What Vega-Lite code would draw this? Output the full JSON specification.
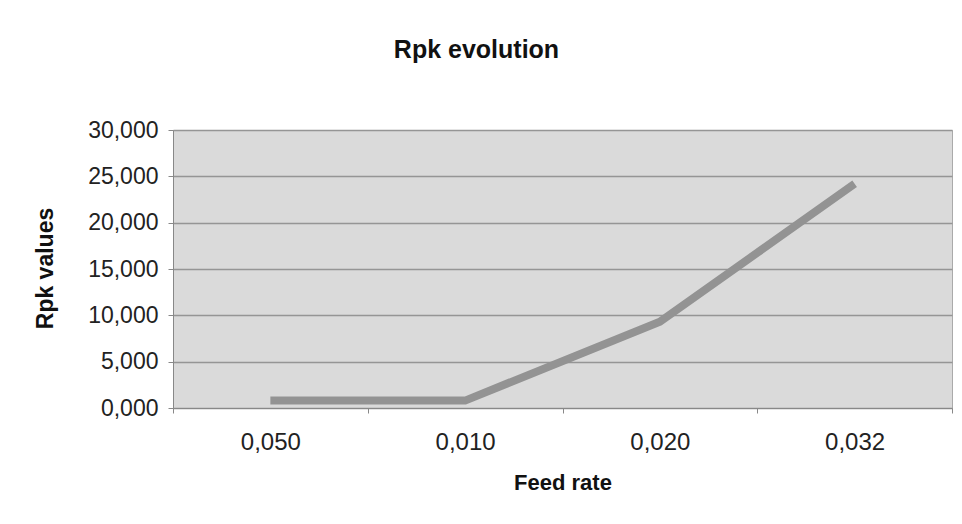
{
  "$schema": "https://vega.github.io/schema/vega-lite/v6.json",
  "autosize": "none",
  "width": 779,
  "height": 278,
  "padding": {"left": 173, "top": 130, "right": 10, "bottom": 116},
  "background": "#ffffff",
  "title": {
    "text": "Rpk evolution",
    "font": "Liberation Sans",
    "fontSize": 25,
    "fontWeight": "bold",
    "color": "#111111",
    "anchor": "middle",
    "dx": -86,
    "offset": 56
  },
  "data": {
    "values": [
      {"feed": "0,050", "rpk": 0.8},
      {"feed": "0,010", "rpk": 0.8},
      {"feed": "0,020", "rpk": 9.3},
      {"feed": "0,032", "rpk": 24.2}
    ]
  },
  "mark": {"type": "line", "color": "#939393", "strokeWidth": 8, "strokeCap": "butt"},
  "encoding": {
    "x": {
      "field": "feed",
      "type": "ordinal",
      "sort": null,
      "scale": {"paddingInner": 0, "paddingOuter": 0},
      "axis": {
        "title": "Feed rate",
        "labelAngle": 0,
        "tickBand": "extent",
        "tickSize": 5,
        "tickColor": "#888888",
        "domainColor": "#888888",
        "labelFont": "Liberation Sans",
        "labelFontSize": 24,
        "labelColor": "#222222",
        "labelPadding": 17,
        "titleFont": "Liberation Sans",
        "titleFontSize": 22,
        "titleFontWeight": "bold",
        "titleColor": "#111111",
        "titlePadding": 18
      }
    },
    "y": {
      "field": "rpk",
      "type": "quantitative",
      "scale": {"domain": [0, 30], "nice": false},
      "axis": {
        "title": "Rpk values",
        "values": [0, 5, 10, 15, 20, 25, 30],
        "labelExpr": "replace(format(datum.value, '.3f'), '.', ',')",
        "gridColor": "#959595",
        "gridWidth": 1.5,
        "tickColor": "#888888",
        "tickSize": 5,
        "domainColor": "#888888",
        "labelFont": "Liberation Sans",
        "labelFontSize": 23,
        "labelColor": "#222222",
        "labelPadding": 10,
        "titleFont": "Liberation Sans",
        "titleFontSize": 23,
        "titleFontWeight": "bold",
        "titleColor": "#111111",
        "titleX": -128,
        "titleY": 138,
        "titleAlign": "center",
        "titleBaseline": "middle"
      }
    }
  },
  "config": {
    "view": {"fill": "#dadada", "stroke": "#aaaaaa"},
    "axisX": {"grid": false}
  }
}
